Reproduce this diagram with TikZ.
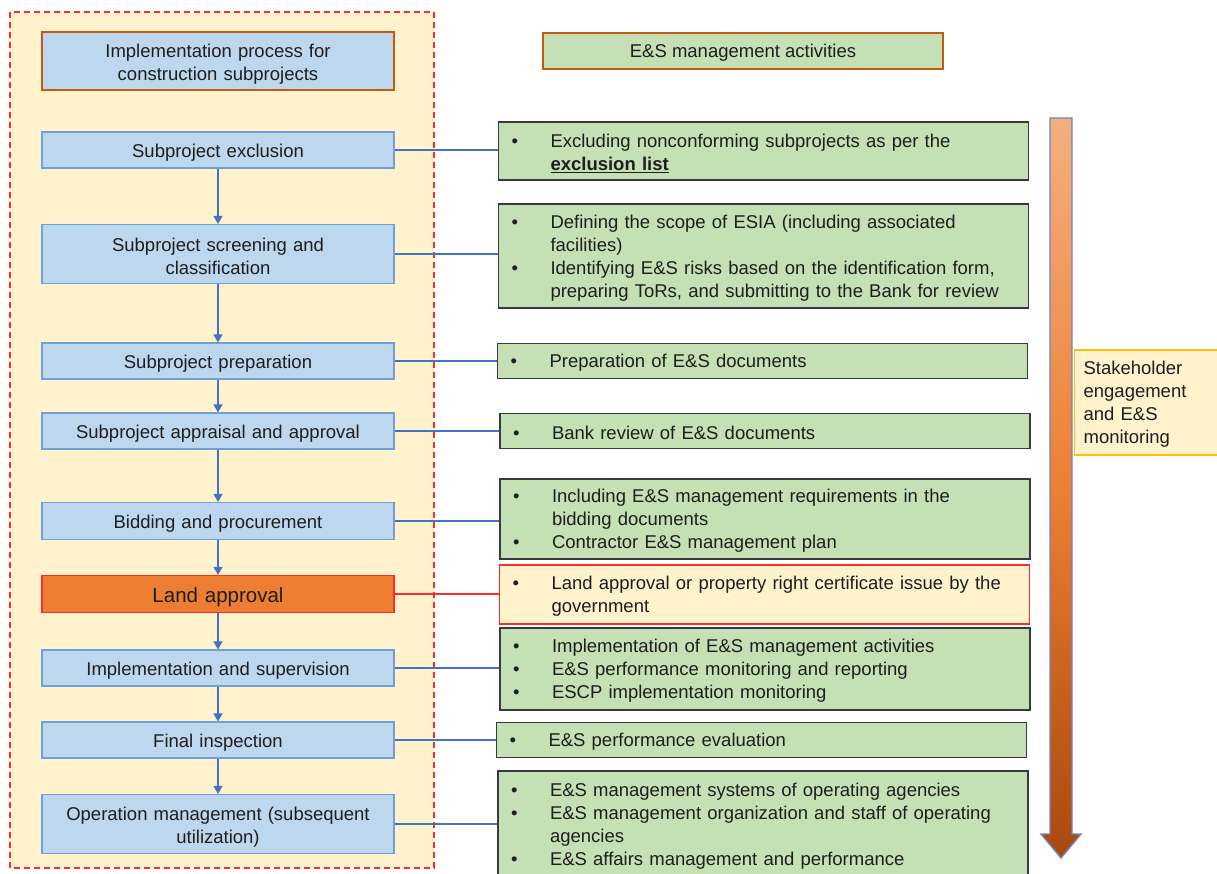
\documentclass[tikz,border=0pt]{standalone}
\usepackage{fontspec}
\setmainfont{Liberation Sans}
\usetikzlibrary{arrows.meta}

\definecolor{boxblue}{HTML}{BDD7EE}
\definecolor{edgeblue}{HTML}{6FA0D8}
\definecolor{flowblue}{HTML}{4472C4}
\definecolor{paleyellow}{HTML}{FFF2CC}
\definecolor{leafgreen}{HTML}{C5E0B4}
\definecolor{darkedge}{HTML}{3A3A3A}
\definecolor{burnt}{HTML}{C55A11}
\definecolor{landorange}{HTML}{ED7D31}
\definecolor{inktext}{HTML}{1E1E1E}
\definecolor{goldline}{HTML}{FFC000}
\definecolor{alertred}{HTML}{FF2A2A}
\definecolor{arrowtop}{HTML}{F4AE80}
\definecolor{arrowmid}{HTML}{EC7F34}
\definecolor{arrowbot}{HTML}{A9480F}
\definecolor{arrowedge}{HTML}{6F86B8}

% vertical fade for the long arrow (defined bottom to top)
\pgfdeclareverticalshading{arrowfade}{100bp}{%
  color(0bp)=(arrowbot); color(25bp)=(arrowbot); color(50bp)=(arrowmid);
  color(75bp)=(arrowtop); color(100bp)=(arrowtop)}

% bullet item with hanging indent; \nl breaks a line inside an item
\newcommand{\bitem}[1]{\hangindent=39pt\hangafter=1\noindent\rule{0pt}{17.5pt}\makebox[39pt][l]{\textbullet}#1\par}
\newcommand{\nl}{\hfil\break}
\newcommand{\bodyfont}{\fontsize{18.5}{23}\selectfont}
% invisible strut that lowers a text block a little inside its box
\newcommand{\lowerstrut}{\rule{0pt}{1.03em}}

\tikzset{
  stage/.style={draw=edgeblue, fill=boxblue, line width=1.2pt, minimum width=352pt,
    text width=344pt, align=center, inner sep=0pt, font=\bodyfont, text=inktext,
    execute at begin node={\lowerstrut}},
  activity/.style={draw=darkedge, fill=leafgreen, line width=1.4pt, inner xsep=13pt,
    inner ysep=0pt, text width=504pt, align=left, font=\bodyfont, text=inktext},
  flow/.style={-{Triangle[width=9pt,length=8pt]}, draw=flowblue, line width=1.3pt},
  link/.style={draw=flowblue, line width=1.2pt},
}

\begin{document}
\begin{tikzpicture}[x=1pt, y=-1pt]
\clip (0,0) rectangle (1217,873);
\fill[white] (0,0) rectangle (1217,873);

% dashed frame of the process column
\draw[fill=paleyellow, draw=alertred, line width=1.6pt, dash pattern=on 6pt off 4pt]
  (10,12) rectangle (434,868);

% process column
\node[stage, draw=burnt, line width=2.2pt, minimum height=58pt] (title) at (218,61)
  {Implementation process for\\construction subprojects};
\node[stage, minimum height=36pt] (excl)  at (218,150)   {Subproject exclusion};
\node[stage, minimum height=59pt] (scr)   at (218,254)   {Subproject screening and\\classification};
\node[stage, minimum height=36pt] (prep)  at (218,361)   {Subproject preparation};
\node[stage, minimum height=36pt] (appr)  at (218,431)   {Subproject appraisal and approval};
\node[stage, minimum height=37pt] (bid)   at (218,521)   {Bidding and procurement};
\node[stage, draw=alertred, fill=landorange, minimum height=37pt,
      font=\fontsize{20.5}{24}\selectfont] (land) at (218,594) {Land approval};
\node[stage, minimum height=36pt] (impl)  at (218,668)   {Implementation and supervision};
\node[stage, minimum height=36pt] (fin)   at (218,740)   {Final inspection};
\node[stage, minimum height=59pt] (oper)  at (218,824)   {Operation management (subsequent\\utilization)};

\draw[flow] (excl) -- (scr);
\draw[flow] (scr) -- (prep);
\draw[flow] (prep) -- (appr);
\draw[flow] (appr) -- (bid);
\draw[flow] (bid) -- (land);
\draw[flow] (land) -- (impl);
\draw[flow] (impl) -- (fin);
\draw[flow] (fin) -- (oper);

% activity column
\node[draw=burnt, fill=leafgreen, line width=1.5pt, minimum width=400pt, minimum height=36pt,
      text height=14pt, text depth=1pt, font=\bodyfont, text=inktext] (head) at (743,51)
  {E\&S management activities};

\node[activity, minimum height=58pt] (r1) at (763.5,151)
  {\bitem{Excluding nonconforming subprojects as per the\nl\textbf{\underline{exclusion list}}}};
\node[activity, minimum height=104pt] (r2) at (763.5,256)
  {\bitem{Defining the scope of ESIA (including associated\nl facilities)}
   \bitem{Identifying E\&S risks based on the identification form,\nl preparing ToRs, and submitting to the Bank for review}};
\node[activity, minimum height=35pt] (r3) at (762.5,361)
  {\bitem{Preparation of E\&S documents}};
\node[activity, minimum height=35pt] (r4) at (765,431)
  {\bitem{Bank review of E\&S documents}};
\node[activity, minimum height=80pt] (r5) at (765,519)
  {\bitem{Including E\&S management requirements in the\nl bidding documents}
   \bitem{Contractor E\&S management plan}};
\node[activity, draw=alertred, fill=paleyellow, minimum height=59pt] (r6) at (764.5,594.5)
  {\bitem{Land approval or property right certificate issue by the\nl government}};
\node[activity, minimum height=82pt] (r7) at (765,669)
  {\bitem{Implementation of E\&S management activities}
   \bitem{E\&S performance monitoring and reporting}
   \bitem{ESCP implementation monitoring}};
\node[activity, minimum height=35pt] (r8) at (761.5,740)
  {\bitem{E\&S performance evaluation}};
\node[activity, minimum height=106pt] (r9) at (763,824)
  {\bitem{E\&S management systems of operating agencies}
   \bitem{E\&S management organization and staff of operating\nl agencies}
   \bitem{E\&S affairs management and performance}};

% links between the two columns
\draw[link] (excl.east) -- (excl.east -| r1.west);
\draw[link] (scr.east)  -- (scr.east -| r2.west);
\draw[link] (prep.east) -- (prep.east -| r3.west);
\draw[link] (appr.east) -- (appr.east -| r4.west);
\draw[link] (bid.east)  -- (bid.east -| r5.west);
\draw[link, draw=alertred] (land.east) -- (land.east -| r6.west);
\draw[link] (impl.east) -- (impl.east -| r7.west);
\draw[link] (fin.east)  -- (fin.east -| r8.west);
\draw[link] (oper.east) -- (oper.east -| r9.west);

% long downward arrow for the whole cycle
\shade[shading=arrowfade, draw=arrowedge, line width=1.4pt]
  (1050,118) -- (1072,118) -- (1072,834) -- (1081,834) -- (1061,858)
  -- (1041,834) -- (1050,834) -- cycle;

\node[draw=goldline, fill=paleyellow, line width=1.2pt, anchor=west, minimum width=160pt,
      minimum height=105pt, text width=142pt, inner xsep=7pt, align=left,
      font=\bodyfont, text=inktext, execute at begin node={\rule{0pt}{17.5pt}}] (stake) at (1074,402.5)
  {Stakeholder\\engagement\\and E\&S\\monitoring};
\end{tikzpicture}
\end{document}
